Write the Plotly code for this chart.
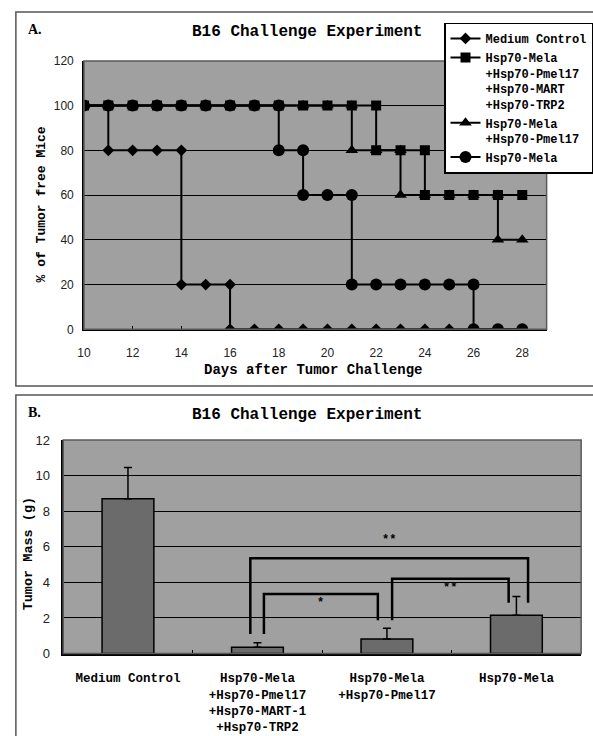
import plotly.graph_objects as go

W, H = 593, 736

# ---------------- Panel A data ----------------
days_mc = [10, 11, 11, 12, 13, 14, 14, 15, 16, 16, 17, 18, 19, 20, 21, 22, 23, 24, 25, 26, 27, 28]
pct_mc = [100, 100, 80, 80, 80, 80, 20, 20, 20, 0, 0, 0, 0, 0, 0, 0, 0, 0, 0, 0, 0, 0]

days_sq = [10, 11, 12, 13, 14, 15, 16, 17, 18, 19, 20, 21, 22, 22, 23, 24, 24, 25, 26, 27, 28]
pct_sq = [100, 100, 100, 100, 100, 100, 100, 100, 100, 100, 100, 100, 100, 80, 80, 80, 60, 60, 60, 60, 60]

days_tr = [10, 11, 12, 13, 14, 15, 16, 17, 18, 19, 20, 21, 21, 22, 23, 23, 24, 25, 26, 27, 27, 28]
pct_tr = [100, 100, 100, 100, 100, 100, 100, 100, 100, 100, 100, 100, 80, 80, 80, 60, 60, 60, 60, 60, 40, 40]

days_ci = [10, 11, 12, 13, 14, 15, 16, 17, 18, 18, 19, 19, 20, 21, 21, 22, 23, 24, 25, 26, 26, 27, 28]
pct_ci = [100, 100, 100, 100, 100, 100, 100, 100, 100, 80, 80, 60, 60, 60, 20, 20, 20, 20, 20, 20, 0, 0, 0]

names_a = ["Medium Control",
           "Hsp70-Mela<br>+Hsp70-Pmel17<br>+Hsp70-MART<br>+Hsp70-TRP2",
           "Hsp70-Mela<br>+Hsp70-Pmel17",
           "Hsp70-Mela"]
x_ticks_a = [10, 12, 14, 16, 18, 20, 22, 24, 26, 28]

# ---------------- Panel B data ----------------
groups_b = ["Medium Control",
            "Hsp70-Mela<br>+Hsp70-Pmel17<br>+Hsp70-MART-1<br>+Hsp70-TRP2",
            "Hsp70-Mela<br>+Hsp70-Pmel17",
            "Hsp70-Mela"]
mass_b = [8.7, 0.35, 0.82, 2.15]
err_b = [1.75, 0.25, 0.6, 1.05]

br_left = [1, 1, 2]
br_right = [3, 2, 3]
br_top = [5.35, 3.35, 4.2]
br_left_base = [1.1, 1.1, 1.87]
br_right_base = [2.86, 1.87, 2.86]
br_label = ["**", "*", "**"]
br_label_y = [6.4, 2.86, 3.69]

# styling offsets of bracket legs from the category centre
br_left_off = [-0.055, 0.05, 0.04]
br_right_off = [0.09, -0.07, -0.06]


def px(xp):
    return xp / W


def py(yp):
    return 1 - yp / H


MONO = "Liberation Mono"
SANS = "Liberation Sans"
BG = "#a0a0a0"

fig = go.Figure()

symbols = ["diamond", "square", "triangle-up", "circle"]
sizes = [9, 10, 11, 12]
series = [(days_mc, pct_mc), (days_sq, pct_sq), (days_tr, pct_tr), (days_ci, pct_ci)]
for (dx, dy), nm, sym, sz in zip(series, names_a, symbols, sizes):
    fig.add_trace(go.Scatter(
        x=dx, y=dy, name=nm, mode="lines+markers",
        line=dict(color="black", width=2),
        marker=dict(symbol=sym, size=sz, color="black"),
        xaxis="x", yaxis="y", showlegend=True,
    ))

fig.add_trace(go.Bar(
    x=list(range(len(groups_b))), y=mass_b, width=0.4,
    marker=dict(color="#6b6b6b", line=dict(color="black", width=1.5)),
    error_y=dict(type="data", array=err_b, arrayminus=[0] * len(err_b), symmetric=False,
                 color="black", thickness=1.5, width=4),
    xaxis="x2", yaxis="y2", showlegend=False,
))

tickfont = dict(family=SANS, size=12, color="#222")

fig.update_layout(
    width=W, height=H, margin=dict(l=0, r=0, t=0, b=0),
    paper_bgcolor="white",
    showlegend=True,
    legend=dict(
        x=px(443), y=py(16), xanchor="left", yanchor="top",
        bgcolor="white", bordercolor="black", borderwidth=1.5,
        font=dict(family=MONO, size=12, color="black", weight="bold"),
        valign="top", tracegroupgap=0,
    ),
    xaxis=dict(
        domain=[px(78), px(547)], range=[10, 29], tickvals=x_ticks_a,
        ticks="inside", ticklen=4, tickcolor="black",
        showline=True, linecolor="black", linewidth=1.5,
        showgrid=False, zeroline=False, tickfont=tickfont, ticklabelstandoff=12,
        anchor="y",
    ),
    yaxis=dict(
        domain=[py(329), py(55)], range=[0, 120], dtick=20,
        showline=True, linecolor="black", linewidth=1.5,
        showgrid=True, gridcolor="black", gridwidth=1, zeroline=False,
        tickfont=tickfont, ticks="", ticklabelstandoff=6, anchor="x",
    ),
    xaxis2=dict(
        domain=[px(57), px(582)], range=[-0.5, 3.5],
        tickvals=list(range(len(groups_b))), ticktext=groups_b, ticks="",
        minor=dict(tickvals=[0.5, 1.5, 2.5], ticks="inside", ticklen=4, tickcolor="black"),
        showline=True, linecolor="black", linewidth=1.5,
        showgrid=False, zeroline=False,
        tickfont=dict(family=MONO, size=12.5, color="black", weight="bold"),
        ticklabelstandoff=12, anchor="y2",
    ),
    yaxis2=dict(
        domain=[py(660), py(442)], range=[0, 12], dtick=2,
        showline=True, linecolor="black", linewidth=1.5,
        showgrid=True, gridcolor="black", gridwidth=1, zeroline=False,
        tickfont=dict(family=SANS, size=13, color="#222"), ticks="",
        ticklabelstandoff=9, anchor="x2",
    ),
    plot_bgcolor=BG,
)

shapes = []
# panel frames
shapes.append(dict(type="rect", xref="paper", yref="paper", x0=px(9), x1=1.05, y0=py(387), y1=py(5),
                   line=dict(color="#555", width=1.5), layer="below"))
shapes.append(dict(type="rect", xref="paper", yref="paper", x0=px(9), x1=1.05, y0=-0.05, y1=py(396),
                   line=dict(color="#555", width=1.5), layer="below"))
# plot-area borders
for xr, yr in (("x", "y"), ("x2", "y2")):
    shapes.append(dict(type="rect", xref=f"{xr} domain", yref=f"{yr} domain", x0=0, x1=1, y0=0, y1=1,
                       line=dict(color="#5a5a5a", width=1.5), layer="above"))

# significance brackets
for i in range(len(br_left)):
    xl = br_left[i] + br_left_off[i]
    xr_ = br_right[i] + br_right_off[i]
    path = (f"M {xl},{br_left_base[i]} L {xl},{br_top[i]} "
            f"L {xr_},{br_top[i]} L {xr_},{br_right_base[i]}")
    shapes.append(dict(type="path", xref="x2", yref="y2", path=path,
                       line=dict(color="black", width=2.5)))
fig.update_layout(shapes=shapes)

ann = []
ann.append(dict(text="A.", x=px(19), y=py(23), xref="paper", yref="paper", xanchor="left", yanchor="middle",
                showarrow=False, font=dict(family="Liberation Serif", size=14, color="black", weight="bold")))
ann.append(dict(text="B.", x=px(19), y=py(414), xref="paper", yref="paper", xanchor="left", yanchor="middle",
                showarrow=False, font=dict(family="Liberation Serif", size=14, color="black", weight="bold")))
for yy in (26, 416):
    ann.append(dict(text="B16 Challenge Experiment", x=px(304), y=py(yy), xref="paper", yref="paper",
                    xanchor="center", yanchor="middle", showarrow=False,
                    font=dict(family=MONO, size=16, color="black", weight="bold")))
ann.append(dict(text="% of Tumor free Mice", x=px(35), y=py(202), xref="paper", yref="paper",
                xanchor="center", yanchor="middle", textangle=-90, showarrow=False,
                font=dict(family=MONO, size=13, color="black", weight="bold")))
ann.append(dict(text="Days after Tumor Challenge", x=px(310), y=py(371), xref="paper", yref="paper",
                xanchor="center", yanchor="middle", showarrow=False,
                font=dict(family=MONO, size=14, color="black", weight="bold")))
ann.append(dict(text="Tumor Mass (g)", x=px(22), y=py(558), xref="paper", yref="paper",
                xanchor="center", yanchor="middle", textangle=-90, showarrow=False,
                font=dict(family=MONO, size=13.5, color="black", weight="bold")))
for i in range(len(br_left)):
    xm = (br_left[i] + br_left_off[i] + br_right[i] + br_right_off[i]) / 2
    ann.append(dict(text=br_label[i], x=xm, y=br_label_y[i], xref="x2", yref="y2",
                    xanchor="center", yanchor="middle", showarrow=False,
                    font=dict(family=MONO, size=12, color="black", weight="bold")))
fig.update_layout(annotations=ann)

fig.write_html("out.html")
